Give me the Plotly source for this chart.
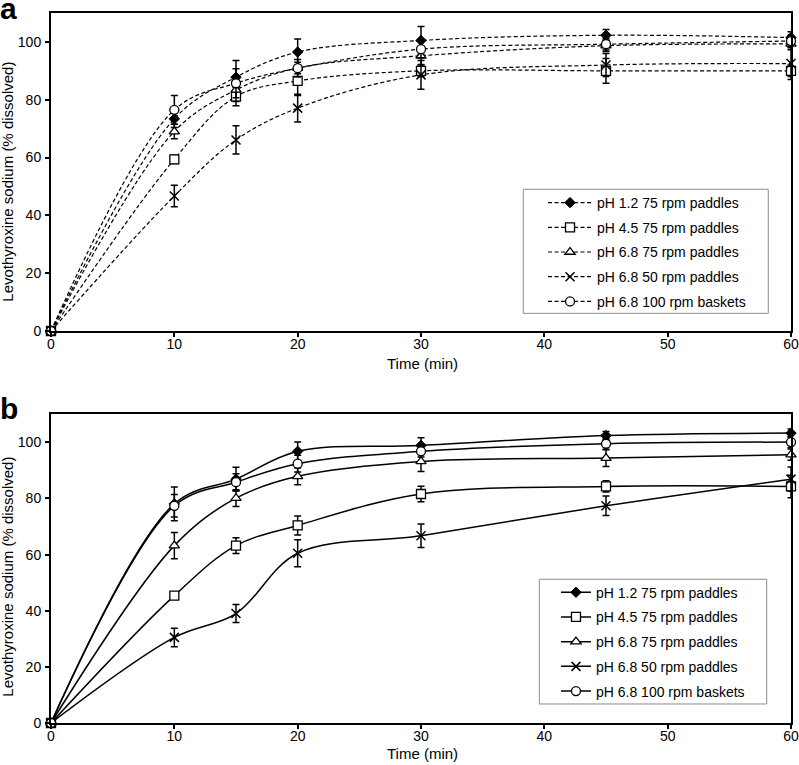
import plotly.graph_objects as go

# ---- data ----
time_min = [0, 10, 15, 20, 30, 45, 60]
series_names = ["pH 1.2 75 rpm paddles", "pH 4.5 75 rpm paddles", "pH 6.8 75 rpm paddles",
                "pH 6.8 50 rpm paddles", "pH 6.8 100 rpm baskets"]

# panel a
a_ph12_75 = [0, 73.4, 87.8, 96.5, 100.5, 102.3, 101.5]
a_ph45_75 = [0, 59.4, 81.1, 86.5, 90.0, 90.0, 90.0]
a_ph68_75 = [0, 69.0, 83.4, 91.0, 95.2, 98.7, 99.3]
a_ph68_50 = [0, 46.7, 66.1, 77.1, 88.6, 92.0, 92.5]
a_ph68_100 = [0, 76.5, 85.7, 90.9, 97.5, 99.2, 100.3]
a_err_ph12_75 = [0, 3.0, 5.8, 4.5, 4.8, 2.0, 2.0]
a_err_ph45_75 = [0, 1.5, 3.2, 5.0, 2.0, 4.3, 2.0]
a_err_ph68_75 = [0, 2.5, 4.0, 2.0, 3.0, 2.0, 2.0]
a_err_ph68_50 = [0, 3.7, 4.9, 4.8, 5.0, 4.0, 5.5]
a_err_ph68_100 = [0, 5.0, 5.0, 3.0, 3.0, 2.0, 2.0]

# panel b
b_ph12_75 = [0, 78.1, 86.9, 96.8, 98.9, 102.4, 103.3]
b_ph45_75 = [0, 45.4, 63.2, 70.4, 81.6, 84.3, 84.3]
b_ph68_75 = [0, 63.2, 80.1, 87.9, 93.2, 94.4, 95.6]
b_ph68_50 = [0, 30.5, 39.0, 60.5, 66.7, 77.4, 86.9]
b_ph68_100 = [0, 77.4, 85.8, 92.4, 96.8, 99.5, 100.1]
b_err_ph12_75 = [0, 6.0, 4.2, 3.3, 2.7, 1.5, 1.5]
b_err_ph45_75 = [0, 1.0, 2.8, 3.4, 2.8, 2.0, 4.0]
b_err_ph68_75 = [0, 4.7, 3.0, 3.0, 3.6, 3.0, 2.0]
b_err_ph68_50 = [0, 3.3, 3.2, 4.8, 4.2, 3.5, 4.3]
b_err_ph68_100 = [0, 4.0, 3.0, 3.0, 2.0, 2.0, 2.0]

x_ticks = [0, 10, 20, 30, 40, 50, 60]
y_ticks = [0, 20, 40, 60, 80, 100]
x_title = "Time (min)"
y_title = "Levothyroxine sodium (% dissolved)"

# ---- styling ----
FONT = "Liberation Sans, Arial, sans-serif"
markers = [
    dict(symbol="diamond", size=8, color="black", line=dict(color="black", width=1)),
    dict(symbol="square", size=9, color="white", line=dict(color="black", width=1.3)),
    dict(symbol="triangle-up", size=9, color="white", line=dict(color="black", width=1.3)),
    dict(symbol="x-thin", size=9, color="black", line=dict(color="black", width=1.5)),
    dict(symbol="circle", size=9, color="white", line=dict(color="black", width=1.3)),
]

panel_a = [a_ph12_75, a_ph45_75, a_ph68_75, a_ph68_50, a_ph68_100]
panel_a_err = [a_err_ph12_75, a_err_ph45_75, a_err_ph68_75, a_err_ph68_50, a_err_ph68_100]
panel_b = [b_ph12_75, b_ph45_75, b_ph68_75, b_ph68_50, b_ph68_100]
panel_b_err = [b_err_ph12_75, b_err_ph45_75, b_err_ph68_75, b_err_ph68_50, b_err_ph68_100]

fig = go.Figure()

for i, (name, ys, errs, mk) in enumerate(zip(series_names, panel_a, panel_a_err, markers)):
    fig.add_trace(go.Scatter(
        x=time_min, y=ys, name=name, mode="lines+markers",
        line=dict(color="black", width=1.2, dash="4px,2.5px", shape="spline", smoothing=1.0),
        marker=mk, cliponaxis=False,
        error_y=dict(type="data", array=errs, visible=True, color="black", thickness=1.5, width=3.5),
        xaxis="x", yaxis="y", legend="legend", legendgroup=f"a{i}",
    ))

for i, (name, ys, errs, mk) in enumerate(zip(series_names, panel_b, panel_b_err, markers)):
    fig.add_trace(go.Scatter(
        x=time_min, y=ys, name=name, mode="lines+markers",
        line=dict(color="black", width=1.5, shape="spline", smoothing=1.0),
        marker=mk, cliponaxis=False,
        error_y=dict(type="data", array=errs, visible=True, color="black", thickness=1.5, width=3.5),
        xaxis="x2", yaxis="y2", legend="legend2", legendgroup=f"b{i}",
    ))

axis_common = dict(
    showline=True, linecolor="black", linewidth=2, mirror=True,
    ticks="outside", ticklen=4, tickwidth=1.5, tickcolor="black",
    showgrid=False, zeroline=False, automargin=False,
    tickfont=dict(family=FONT, size=14, color="black"),
    ticklabeloverflow="allow",
)

xa = dict(axis_common, range=[0, 60], tickvals=x_ticks, ticklabelstandoff=-5)
ya = dict(axis_common, range=[0, 110], tickvals=y_ticks, ticklabelstandoff=1)

legend_common = dict(
    xanchor="left", yanchor="top", bgcolor="rgba(0,0,0,0)",
    borderwidth=0,
    font=dict(family=FONT, size=14, color="black"),
    tracegroupgap=3.5,
)

title_font = dict(family=FONT, size=15, color="black")
annotations = [
    dict(text="<b>a</b>", xref="paper", yref="paper", x=-0.0716, y=1.032,
         xanchor="left", yanchor="top", showarrow=False,
         font=dict(family=FONT, size=30, color="black")),
    dict(text="<b>b</b>", xref="paper", yref="paper", x=-0.0716, y=0.4693,
         xanchor="left", yanchor="top", showarrow=False,
         font=dict(family=FONT, size=30, color="black")),
    dict(text=x_title, xref="paper", yref="paper", x=0.5014, y=0.5070,
         xanchor="center", yanchor="middle", showarrow=False, font=title_font),
    dict(text=x_title, xref="paper", yref="paper", x=0.5014, y=-0.0423,
         xanchor="center", yanchor="middle", showarrow=False, font=title_font),
    dict(text=y_title, xref="paper", yref="paper", x=-0.0581, y=0.7624, textangle=-90,
         xanchor="center", yanchor="middle", showarrow=False, font=title_font),
    dict(text=y_title, xref="paper", yref="paper", x=-0.0581, y=0.2061, textangle=-90,
         xanchor="center", yanchor="middle", showarrow=False, font=title_font),
]

legend_boxes = [
    dict(type="rect", xref="paper", yref="paper", x0=0.6382, x1=0.9693, y0=0.5770, y1=0.7517,
         line=dict(color="#8c8c8c", width=1), fillcolor="white", layer="below"),
    dict(type="rect", xref="paper", yref="paper", x0=0.6599, x1=0.9672, y0=0.0268, y1=0.2024,
         line=dict(color="#8c8c8c", width=1), fillcolor="white", layer="below"),
]

fig.update_layout(
    width=799, height=765,
    margin=dict(l=51, r=8, t=13, b=42),
    paper_bgcolor="white", plot_bgcolor="white",
    font=dict(family=FONT, color="black"),
    xaxis=dict(xa, domain=[0, 1], anchor="y"),
    yaxis=dict(ya, domain=[0.5521, 1], anchor="x"),
    xaxis2=dict(xa, domain=[0, 1], anchor="y2"),
    yaxis2=dict(ya, domain=[0, 0.4348], anchor="x2"),
    legend=dict(legend_common, x=0.6649, y=0.7549, itemwidth=44),
    legend2=dict(legend_common, x=0.6824, y=0.2061, itemwidth=30),
    annotations=annotations,
    shapes=legend_boxes,
    showlegend=True,
)

fig.write_html("out.html", config={"displayModeBar": False},
               post_script="document.body.style.margin='0';")
